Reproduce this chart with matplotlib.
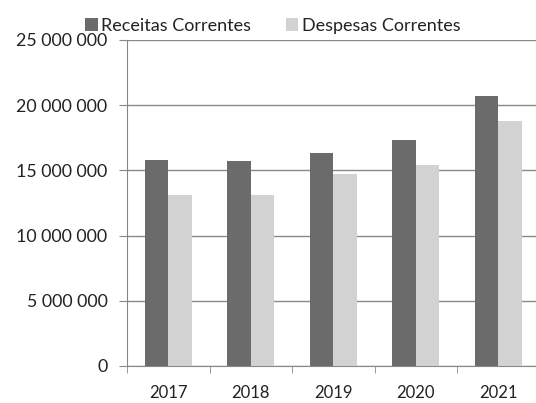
import matplotlib.pyplot as plt
import numpy as np
from matplotlib.ticker import FuncFormatter, FixedLocator

# Data
years = ["2017", "2018", "2019", "2020", "2021"]
receitas = [15.78e6, 15.74e6, 16.35e6, 17.32e6, 20.68e6]
despesas = [13.10e6, 13.10e6, 14.72e6, 15.40e6, 18.75e6]
series_names = ["Receitas Correntes", "Despesas Correntes"]

plt.rcParams["font.family"] = ["Lato", "DejaVu Sans"]

fig = plt.figure(figsize=(5.36, 4.03), dpi=100)
ax = fig.add_axes([0.237, 0.092, 0.770, 0.809])

x = np.arange(len(years))
bar_w = 0.285
dark = "#6b6b6b"
light = "#d2d2d2"

ax.bar(x - bar_w / 2, receitas, width=bar_w, color=dark, label=series_names[0], zorder=3)
ax.bar(x + bar_w / 2, despesas, width=bar_w, color=light, label=series_names[1], zorder=3)

ax.set_xlim(-0.5, len(years) - 0.5)
ax.set_ylim(0, 25e6)
ax.set_yticks(np.arange(0, 25e6 + 1, 5e6))
ax.yaxis.set_major_formatter(FuncFormatter(lambda v, p: f"{int(v):,}".replace(",", " ")))

# category labels at centres, tick marks at boundaries
ax.set_xticks(x)
ax.set_xticklabels(years)
ax.xaxis.set_minor_locator(FixedLocator(np.arange(-0.5, len(years), 1.0)))
ax.tick_params(axis="x", which="major", length=0, pad=14, labelsize=12, colors="#222222")
ax.tick_params(axis="x", which="minor", length=5, color="#888888")
ax.tick_params(axis="y", length=6, pad=8, labelsize=12.8, color="#888888", labelcolor="#222222")

ax.grid(axis="y", color="#8a8a8a", linewidth=1.0, zorder=0)
for side in ["top", "right"]:
    ax.spines[side].set_visible(False)
ax.spines["left"].set_color("#888888")
ax.spines["bottom"].set_color("#888888")

fig.legend(
    loc="center",
    bbox_to_anchor=(0.509, 0.936),
    ncol=2,
    frameon=False,
    fontsize=13,
    handlelength=0.7,
    handleheight=0.7,
    handletextpad=0.2,
    columnspacing=1.9,
    labelcolor="#222222",
)

fig.savefig("out.png", dpi=100)
